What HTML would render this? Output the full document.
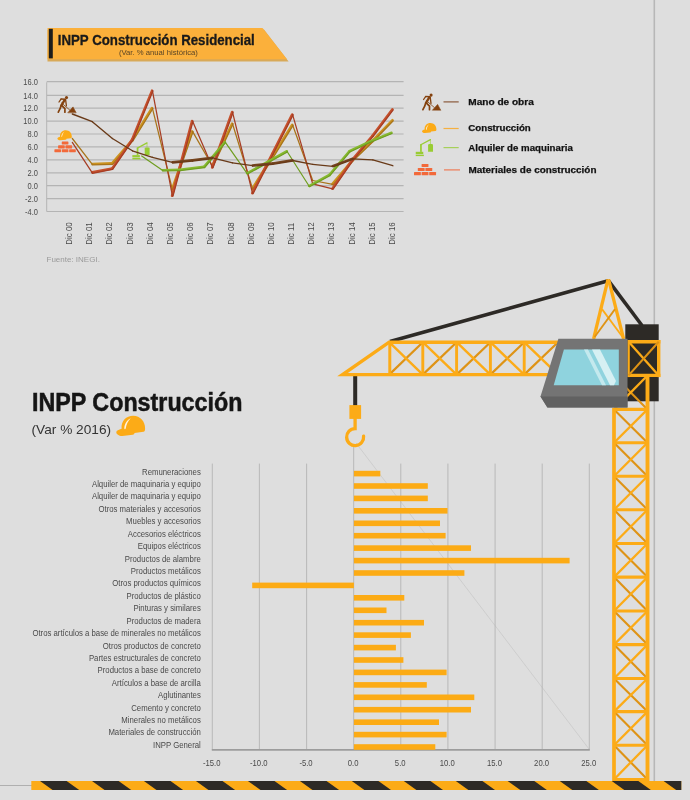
<!DOCTYPE html>
<html lang="es"><head><meta charset="utf-8"><title>INPP Construcción</title>
<style>html,body{margin:0;padding:0;background:#dedede;}body{width:690px;height:800px;overflow:hidden;}svg{display:block;}text{font-family:"Liberation Sans",Arial,Helvetica,sans-serif;}</style></head><body>
<svg width="690" height="800" viewBox="0 0 690 800">
<rect width="690" height="800" fill="#dedede"/>
<rect x="653.5" y="0" width="1.6" height="781" fill="#b7b7b7"/>
<polygon points="47.5,30 264,29.4 288.6,61.6 47.5,61.6" fill="#d8a958"/>
<polygon points="47.5,28 262.5,28 287,59.3 47.5,59.3" fill="#fbb03b"/>
<rect x="48.8" y="28.8" width="4" height="29.6" fill="#1d1d1b"/>
<text x="57.8" y="44.8" font-size="13.8" font-weight="bold" fill="#1a1a1a" stroke="#1a1a1a" stroke-width="0.3" textLength="197" lengthAdjust="spacingAndGlyphs">INPP Construcción Residencial</text>
<text x="118.9" y="54.9" font-size="7.8" fill="#5a4526" textLength="79" lengthAdjust="spacingAndGlyphs">(Var. % anual histórica)</text>
<line x1="46.7" y1="81.7" x2="403.6" y2="81.7" stroke="#b4b4b4" stroke-width="1.2"/>
<text transform="translate(37.9,84.9) scale(0.83,1)" font-size="9" fill="#4a4a4a" text-anchor="end">16.0</text>
<line x1="46.7" y1="95.3" x2="403.6" y2="95.3" stroke="#b4b4b4" stroke-width="1.2"/>
<text transform="translate(37.9,98.5) scale(0.83,1)" font-size="9" fill="#4a4a4a" text-anchor="end">14.0</text>
<line x1="46.7" y1="108.2" x2="403.6" y2="108.2" stroke="#b4b4b4" stroke-width="1.2"/>
<text transform="translate(37.9,111.4) scale(0.83,1)" font-size="9" fill="#4a4a4a" text-anchor="end">12.0</text>
<line x1="46.7" y1="121.1" x2="403.6" y2="121.1" stroke="#b4b4b4" stroke-width="1.2"/>
<text transform="translate(37.9,124.3) scale(0.83,1)" font-size="9" fill="#4a4a4a" text-anchor="end">10.0</text>
<line x1="46.7" y1="134.0" x2="403.6" y2="134.0" stroke="#b4b4b4" stroke-width="1.2"/>
<text transform="translate(37.9,137.2) scale(0.83,1)" font-size="9" fill="#4a4a4a" text-anchor="end">8.0</text>
<line x1="46.7" y1="146.9" x2="403.6" y2="146.9" stroke="#b4b4b4" stroke-width="1.2"/>
<text transform="translate(37.9,150.1) scale(0.83,1)" font-size="9" fill="#4a4a4a" text-anchor="end">6.0</text>
<line x1="46.7" y1="159.9" x2="403.6" y2="159.9" stroke="#b4b4b4" stroke-width="1.2"/>
<text transform="translate(37.9,163.1) scale(0.83,1)" font-size="9" fill="#4a4a4a" text-anchor="end">4.0</text>
<line x1="46.7" y1="172.8" x2="403.6" y2="172.8" stroke="#b4b4b4" stroke-width="1.2"/>
<text transform="translate(37.9,176.0) scale(0.83,1)" font-size="9" fill="#4a4a4a" text-anchor="end">2.0</text>
<line x1="46.7" y1="185.7" x2="403.6" y2="185.7" stroke="#b4b4b4" stroke-width="1.2"/>
<text transform="translate(37.9,188.9) scale(0.83,1)" font-size="9" fill="#4a4a4a" text-anchor="end">0.0</text>
<line x1="46.7" y1="198.6" x2="403.6" y2="198.6" stroke="#b4b4b4" stroke-width="1.2"/>
<text transform="translate(37.9,201.8) scale(0.83,1)" font-size="9" fill="#4a4a4a" text-anchor="end">-2.0</text>
<line x1="46.7" y1="211.5" x2="403.6" y2="211.5" stroke="#b4b4b4" stroke-width="1.2"/>
<text transform="translate(37.9,214.7) scale(0.83,1)" font-size="9" fill="#4a4a4a" text-anchor="end">-4.0</text>
<line x1="46.7" y1="82.3" x2="46.7" y2="211.5" stroke="#b4b4b4" stroke-width="1"/>
<text transform="translate(72.1,244.8) rotate(-90) scale(0.886,1)" font-size="9" fill="#4a4a4a">Dic 00</text>
<text transform="translate(92.3,244.8) rotate(-90) scale(0.886,1)" font-size="9" fill="#4a4a4a">Dic 01</text>
<text transform="translate(112.4,244.8) rotate(-90) scale(0.886,1)" font-size="9" fill="#4a4a4a">Dic 02</text>
<text transform="translate(132.6,244.8) rotate(-90) scale(0.886,1)" font-size="9" fill="#4a4a4a">Dic 03</text>
<text transform="translate(152.8,244.8) rotate(-90) scale(0.886,1)" font-size="9" fill="#4a4a4a">Dic 04</text>
<text transform="translate(172.9,244.8) rotate(-90) scale(0.886,1)" font-size="9" fill="#4a4a4a">Dic 05</text>
<text transform="translate(193.1,244.8) rotate(-90) scale(0.886,1)" font-size="9" fill="#4a4a4a">Dic 06</text>
<text transform="translate(213.3,244.8) rotate(-90) scale(0.886,1)" font-size="9" fill="#4a4a4a">Dic 07</text>
<text transform="translate(233.5,244.8) rotate(-90) scale(0.886,1)" font-size="9" fill="#4a4a4a">Dic 08</text>
<text transform="translate(253.6,244.8) rotate(-90) scale(0.886,1)" font-size="9" fill="#4a4a4a">Dic 09</text>
<text transform="translate(273.8,244.8) rotate(-90) scale(0.886,1)" font-size="9" fill="#4a4a4a">Dic 10</text>
<text transform="translate(294.0,244.8) rotate(-90) scale(0.886,1)" font-size="9" fill="#4a4a4a">Dic 11</text>
<text transform="translate(314.1,244.8) rotate(-90) scale(0.886,1)" font-size="9" fill="#4a4a4a">Dic 12</text>
<text transform="translate(334.3,244.8) rotate(-90) scale(0.886,1)" font-size="9" fill="#4a4a4a">Dic 13</text>
<text transform="translate(354.5,244.8) rotate(-90) scale(0.886,1)" font-size="9" fill="#4a4a4a">Dic 14</text>
<text transform="translate(374.6,244.8) rotate(-90) scale(0.886,1)" font-size="9" fill="#4a4a4a">Dic 15</text>
<text transform="translate(394.8,244.8) rotate(-90) scale(0.886,1)" font-size="9" fill="#4a4a4a">Dic 16</text>
<text x="46.5" y="262.3" font-size="8" fill="#9a9a9a">Fuente: INEGI.</text>
<g transform="translate(57.7,96.0) scale(1.000)" fill="none" stroke="#84420f" stroke-linecap="round" stroke-linejoin="round">
<circle cx="8.8" cy="1.6" r="1.55" fill="#84420f" stroke="none"/>
<path d="M3.4,3.1 L7.5,3.3" stroke-width="1.5"/>
<path d="M3.3,3.1 L1.3,6.0" stroke-width="1.3"/>
<path d="M7.0,3.9 L3.7,9.3" stroke-width="2.3"/>
<path d="M7.9,3.6 L8.7,9.8" stroke-width="1.3"/>
<path d="M3.4,9.4 L2.4,12.7 L0.6,16.2" stroke-width="1.7"/>
<path d="M4.4,9.8 L7.2,12.7 L7.2,16.2" stroke-width="1.7"/>
<path d="M3.9,7.0 L12.0,14.0" stroke-width="0.8"/>
<path d="M10.3,16.5 L15.3,10.9 L18.3,16.5 Z" fill="#84420f" stroke="#84420f" stroke-width="0.6"/>
</g>
<g transform="translate(57.4,130.2) scale(1.000)">
<path d="M2.65,6.5 C2.3,2.6 5,0 8.45,0 C12,0 14.4,2.8 14.4,6.3 C14.4,7.4 14.2,7.8 13.6,7.95 L9.1,8.6 C9,9.2 8.8,9.4 8.2,9.5 L3,10.1 C1.5,10.2 0,9.2 0,8.2 C0,7.4 1.2,6.9 2.65,6.5 Z" fill="#fcab17"/>
<path d="M7.2,1.2 C5.2,2.2 4.0,4.2 4.0,6.4 C4.0,6.9 4.6,6.9 4.7,6.4 C5.0,4.4 5.8,2.6 7.2,1.2Z" fill="#fff3dc"/>
</g>
<g transform="translate(54.4,141.4) scale(0.970)" fill="#f2693a">
<rect x="7.60" y="0.00" width="6.85" height="3.15" rx="0.5"/>
<rect x="3.80" y="4.05" width="6.85" height="3.15" rx="0.5"/>
<rect x="11.40" y="4.05" width="6.85" height="3.15" rx="0.5"/>
<rect x="0.00" y="8.10" width="6.85" height="3.15" rx="0.5"/>
<rect x="7.60" y="8.10" width="6.85" height="3.15" rx="0.5"/>
<rect x="15.20" y="8.10" width="6.85" height="3.15" rx="0.5"/>
</g>
<g transform="translate(132.0,142.6) scale(1.000)">
<rect x="0.35" y="12.5" width="7.5" height="2.3" fill="#99cc33"/>
<rect x="0.35" y="15.4" width="8.1" height="1.4" fill="#99cc33"/>
<rect x="4.7" y="5.0" width="1.7" height="7.6" fill="#99cc33"/>
<path d="M5.4,5.5 L15,0.3" fill="none" stroke="#99cc33" stroke-width="1.2" stroke-linecap="round"/>
<path d="M15,0.3 L15,5" fill="none" stroke="#99cc33" stroke-width="0.6"/>
<path d="M12.7,12.5 L12.7,6 Q12.7,4.8 13.9,4.8 L16.4,4.8 Q17.6,4.8 17.6,6 L17.6,12.5 Z" fill="#99cc33"/>
</g>
<line x1="92.3" y1="163.9" x2="112.3" y2="163.3" stroke="#cb921f" stroke-width="2.4" stroke-linecap="round"/>
<line x1="112.0" y1="163.4" x2="132.0" y2="140.2" stroke="#cb921f" stroke-width="2.4" stroke-linecap="round"/>
<line x1="132.0" y1="140.2" x2="152.0" y2="107.9" stroke="#cb921f" stroke-width="2.4" stroke-linecap="round"/>
<line x1="172.0" y1="189.4" x2="192.1" y2="131.3" stroke="#cb921f" stroke-width="2.4" stroke-linecap="round"/>
<line x1="212.1" y1="166.1" x2="232.1" y2="123.5" stroke="#cb921f" stroke-width="2.4" stroke-linecap="round"/>
<line x1="252.2" y1="188.7" x2="272.2" y2="157.0" stroke="#cb921f" stroke-width="2.4" stroke-linecap="round"/>
<line x1="272.2" y1="157.0" x2="292.2" y2="124.7" stroke="#cb921f" stroke-width="2.4" stroke-linecap="round"/>
<line x1="332.3" y1="184.1" x2="352.4" y2="160.2" stroke="#cb921f" stroke-width="2.4" stroke-linecap="round"/>
<line x1="352.4" y1="160.2" x2="372.4" y2="140.8" stroke="#cb921f" stroke-width="2.4" stroke-linecap="round"/>
<line x1="372.4" y1="140.8" x2="392.5" y2="120.1" stroke="#cb921f" stroke-width="2.4" stroke-linecap="round"/>
<line x1="72.3" y1="138.5" x2="92.3" y2="164.4" stroke="#a8741a" stroke-width="1.25" stroke-linecap="round"/>
<line x1="92.3" y1="164.9" x2="112.4" y2="164.3" stroke="#a8741a" stroke-width="1.25" stroke-linecap="round"/>
<line x1="112.8" y1="164.1" x2="132.8" y2="140.8" stroke="#a8741a" stroke-width="1.25" stroke-linecap="round"/>
<line x1="132.9" y1="140.8" x2="152.9" y2="108.5" stroke="#a8741a" stroke-width="1.25" stroke-linecap="round"/>
<line x1="152.4" y1="108.2" x2="172.4" y2="189.6" stroke="#a8741a" stroke-width="1.25" stroke-linecap="round"/>
<line x1="173.0" y1="189.8" x2="193.0" y2="131.6" stroke="#a8741a" stroke-width="1.25" stroke-linecap="round"/>
<line x1="192.5" y1="131.4" x2="212.5" y2="166.3" stroke="#a8741a" stroke-width="1.25" stroke-linecap="round"/>
<line x1="213.0" y1="166.6" x2="233.0" y2="123.9" stroke="#a8741a" stroke-width="1.25" stroke-linecap="round"/>
<line x1="232.5" y1="123.7" x2="252.6" y2="188.9" stroke="#a8741a" stroke-width="1.25" stroke-linecap="round"/>
<line x1="253.0" y1="189.2" x2="273.1" y2="157.6" stroke="#a8741a" stroke-width="1.25" stroke-linecap="round"/>
<line x1="273.1" y1="157.6" x2="293.1" y2="125.3" stroke="#a8741a" stroke-width="1.25" stroke-linecap="round"/>
<line x1="292.6" y1="125.0" x2="312.7" y2="180.5" stroke="#a8741a" stroke-width="1.25" stroke-linecap="round"/>
<line x1="312.7" y1="180.5" x2="332.7" y2="184.4" stroke="#a8741a" stroke-width="1.25" stroke-linecap="round"/>
<line x1="333.1" y1="184.8" x2="353.1" y2="160.9" stroke="#a8741a" stroke-width="1.25" stroke-linecap="round"/>
<line x1="353.1" y1="160.9" x2="373.1" y2="141.5" stroke="#a8741a" stroke-width="1.25" stroke-linecap="round"/>
<line x1="373.1" y1="141.5" x2="393.2" y2="120.8" stroke="#a8741a" stroke-width="1.25" stroke-linecap="round"/>
<line x1="92.2" y1="172.3" x2="112.3" y2="168.5" stroke="#c5502c" stroke-width="2.4" stroke-linecap="round"/>
<line x1="112.0" y1="168.6" x2="132.0" y2="139.6" stroke="#c5502c" stroke-width="2.4" stroke-linecap="round"/>
<line x1="132.0" y1="139.7" x2="152.0" y2="90.6" stroke="#c5502c" stroke-width="2.4" stroke-linecap="round"/>
<line x1="172.0" y1="195.9" x2="192.0" y2="121.0" stroke="#c5502c" stroke-width="2.4" stroke-linecap="round"/>
<line x1="212.1" y1="167.5" x2="232.1" y2="111.9" stroke="#c5502c" stroke-width="2.4" stroke-linecap="round"/>
<line x1="252.2" y1="193.2" x2="272.2" y2="153.8" stroke="#c5502c" stroke-width="2.4" stroke-linecap="round"/>
<line x1="272.2" y1="153.8" x2="292.2" y2="114.4" stroke="#c5502c" stroke-width="2.4" stroke-linecap="round"/>
<line x1="332.3" y1="188.7" x2="352.3" y2="159.6" stroke="#c5502c" stroke-width="2.4" stroke-linecap="round"/>
<line x1="352.4" y1="159.6" x2="372.4" y2="135.7" stroke="#c5502c" stroke-width="2.4" stroke-linecap="round"/>
<line x1="372.4" y1="135.7" x2="392.4" y2="109.2" stroke="#c5502c" stroke-width="2.4" stroke-linecap="round"/>
<line x1="72.3" y1="142.4" x2="92.3" y2="172.8" stroke="#a63d24" stroke-width="1.25" stroke-linecap="round"/>
<line x1="92.4" y1="173.3" x2="112.5" y2="169.4" stroke="#a63d24" stroke-width="1.25" stroke-linecap="round"/>
<line x1="112.8" y1="169.2" x2="132.8" y2="140.1" stroke="#a63d24" stroke-width="1.25" stroke-linecap="round"/>
<line x1="132.9" y1="140.0" x2="152.9" y2="90.9" stroke="#a63d24" stroke-width="1.25" stroke-linecap="round"/>
<line x1="152.4" y1="90.7" x2="172.4" y2="196.0" stroke="#a63d24" stroke-width="1.25" stroke-linecap="round"/>
<line x1="173.0" y1="196.2" x2="193.0" y2="121.2" stroke="#a63d24" stroke-width="1.25" stroke-linecap="round"/>
<line x1="192.5" y1="121.1" x2="212.5" y2="167.6" stroke="#a63d24" stroke-width="1.25" stroke-linecap="round"/>
<line x1="213.0" y1="167.8" x2="233.1" y2="112.2" stroke="#a63d24" stroke-width="1.25" stroke-linecap="round"/>
<line x1="232.5" y1="112.1" x2="252.6" y2="193.5" stroke="#a63d24" stroke-width="1.25" stroke-linecap="round"/>
<line x1="253.1" y1="193.7" x2="273.1" y2="154.3" stroke="#a63d24" stroke-width="1.25" stroke-linecap="round"/>
<line x1="273.1" y1="154.3" x2="293.1" y2="114.9" stroke="#a63d24" stroke-width="1.25" stroke-linecap="round"/>
<line x1="292.6" y1="114.6" x2="312.7" y2="183.8" stroke="#a63d24" stroke-width="1.25" stroke-linecap="round"/>
<line x1="312.7" y1="183.8" x2="332.7" y2="188.9" stroke="#a63d24" stroke-width="1.25" stroke-linecap="round"/>
<line x1="333.1" y1="189.2" x2="353.2" y2="160.2" stroke="#a63d24" stroke-width="1.25" stroke-linecap="round"/>
<line x1="353.1" y1="160.2" x2="373.2" y2="136.3" stroke="#a63d24" stroke-width="1.25" stroke-linecap="round"/>
<line x1="373.2" y1="136.3" x2="393.2" y2="109.8" stroke="#a63d24" stroke-width="1.25" stroke-linecap="round"/>
<line x1="162.8" y1="170.1" x2="180.0" y2="169.7" stroke="#86b92f" stroke-width="2.3" stroke-linecap="round"/>
<line x1="179.9" y1="169.7" x2="204.2" y2="166.7" stroke="#86b92f" stroke-width="2.3" stroke-linecap="round"/>
<line x1="204.0" y1="166.8" x2="224.9" y2="141.9" stroke="#86b92f" stroke-width="2.3" stroke-linecap="round"/>
<line x1="247.0" y1="173.2" x2="286.9" y2="151.1" stroke="#86b92f" stroke-width="2.3" stroke-linecap="round"/>
<line x1="309.0" y1="185.9" x2="329.3" y2="174.8" stroke="#86b92f" stroke-width="2.3" stroke-linecap="round"/>
<line x1="329.2" y1="174.9" x2="349.3" y2="151.2" stroke="#86b92f" stroke-width="2.3" stroke-linecap="round"/>
<line x1="349.4" y1="151.1" x2="369.1" y2="141.8" stroke="#86b92f" stroke-width="2.3" stroke-linecap="round"/>
<line x1="369.1" y1="141.8" x2="391.6" y2="132.6" stroke="#86b92f" stroke-width="2.3" stroke-linecap="round"/>
<line x1="141.7" y1="156.0" x2="162.8" y2="170.5" stroke="#6f9d20" stroke-width="1.2" stroke-linecap="round"/>
<line x1="162.8" y1="171.0" x2="180.0" y2="170.6" stroke="#6f9d20" stroke-width="1.2" stroke-linecap="round"/>
<line x1="180.1" y1="170.6" x2="204.4" y2="167.6" stroke="#6f9d20" stroke-width="1.2" stroke-linecap="round"/>
<line x1="204.7" y1="167.5" x2="225.6" y2="142.6" stroke="#6f9d20" stroke-width="1.2" stroke-linecap="round"/>
<line x1="225.2" y1="142.2" x2="247.2" y2="173.6" stroke="#6f9d20" stroke-width="1.2" stroke-linecap="round"/>
<line x1="247.5" y1="174.1" x2="287.4" y2="152.0" stroke="#6f9d20" stroke-width="1.2" stroke-linecap="round"/>
<line x1="287.1" y1="151.5" x2="309.2" y2="186.3" stroke="#6f9d20" stroke-width="1.2" stroke-linecap="round"/>
<line x1="309.5" y1="186.8" x2="329.8" y2="175.7" stroke="#6f9d20" stroke-width="1.2" stroke-linecap="round"/>
<line x1="329.9" y1="175.6" x2="350.0" y2="151.9" stroke="#6f9d20" stroke-width="1.2" stroke-linecap="round"/>
<line x1="349.8" y1="152.0" x2="369.5" y2="142.7" stroke="#6f9d20" stroke-width="1.2" stroke-linecap="round"/>
<line x1="369.5" y1="142.7" x2="392.0" y2="133.5" stroke="#6f9d20" stroke-width="1.2" stroke-linecap="round"/>
<line x1="172.4" y1="162.0" x2="192.4" y2="160.1" stroke="#74441f" stroke-width="2.1" stroke-linecap="round"/>
<line x1="192.4" y1="160.1" x2="212.5" y2="157.5" stroke="#74441f" stroke-width="2.1" stroke-linecap="round"/>
<line x1="252.5" y1="165.2" x2="272.6" y2="163.3" stroke="#74441f" stroke-width="2.1" stroke-linecap="round"/>
<line x1="272.5" y1="163.3" x2="292.6" y2="160.1" stroke="#74441f" stroke-width="2.1" stroke-linecap="round"/>
<line x1="332.5" y1="165.9" x2="352.6" y2="158.5" stroke="#74441f" stroke-width="2.1" stroke-linecap="round"/>
<line x1="72.3" y1="114.0" x2="92.3" y2="121.7" stroke="#693a18" stroke-width="1.35" stroke-linecap="round"/>
<line x1="92.3" y1="121.7" x2="112.4" y2="138.5" stroke="#693a18" stroke-width="1.35" stroke-linecap="round"/>
<line x1="112.4" y1="138.5" x2="132.4" y2="150.8" stroke="#693a18" stroke-width="1.35" stroke-linecap="round"/>
<line x1="132.4" y1="150.8" x2="152.4" y2="157.3" stroke="#693a18" stroke-width="1.35" stroke-linecap="round"/>
<line x1="152.4" y1="157.3" x2="172.4" y2="162.4" stroke="#693a18" stroke-width="1.35" stroke-linecap="round"/>
<line x1="172.5" y1="163.0" x2="192.5" y2="161.1" stroke="#693a18" stroke-width="1.35" stroke-linecap="round"/>
<line x1="192.6" y1="161.1" x2="212.6" y2="158.5" stroke="#693a18" stroke-width="1.35" stroke-linecap="round"/>
<line x1="212.5" y1="157.9" x2="232.5" y2="162.8" stroke="#693a18" stroke-width="1.35" stroke-linecap="round"/>
<line x1="232.5" y1="162.8" x2="252.6" y2="165.7" stroke="#693a18" stroke-width="1.35" stroke-linecap="round"/>
<line x1="252.6" y1="166.2" x2="272.7" y2="164.3" stroke="#693a18" stroke-width="1.35" stroke-linecap="round"/>
<line x1="272.7" y1="164.3" x2="292.7" y2="161.0" stroke="#693a18" stroke-width="1.35" stroke-linecap="round"/>
<line x1="292.6" y1="160.5" x2="312.7" y2="164.4" stroke="#693a18" stroke-width="1.35" stroke-linecap="round"/>
<line x1="312.7" y1="164.4" x2="332.7" y2="166.3" stroke="#693a18" stroke-width="1.35" stroke-linecap="round"/>
<line x1="332.9" y1="166.8" x2="352.9" y2="159.4" stroke="#693a18" stroke-width="1.35" stroke-linecap="round"/>
<line x1="352.7" y1="158.9" x2="372.8" y2="159.9" stroke="#693a18" stroke-width="1.35" stroke-linecap="round"/>
<line x1="372.8" y1="159.9" x2="392.8" y2="165.7" stroke="#693a18" stroke-width="1.35" stroke-linecap="round"/>
<g transform="translate(422.3,93.5) scale(1.000)" fill="none" stroke="#84420f" stroke-linecap="round" stroke-linejoin="round">
<circle cx="8.8" cy="1.6" r="1.55" fill="#84420f" stroke="none"/>
<path d="M3.4,3.1 L7.5,3.3" stroke-width="1.5"/>
<path d="M3.3,3.1 L1.3,6.0" stroke-width="1.3"/>
<path d="M7.0,3.9 L3.7,9.3" stroke-width="2.3"/>
<path d="M7.9,3.6 L8.7,9.8" stroke-width="1.3"/>
<path d="M3.4,9.4 L2.4,12.7 L0.6,16.2" stroke-width="1.7"/>
<path d="M4.4,9.8 L7.2,12.7 L7.2,16.2" stroke-width="1.7"/>
<path d="M3.9,7.0 L12.0,14.0" stroke-width="0.8"/>
<path d="M10.3,16.5 L15.3,10.9 L18.3,16.5 Z" fill="#84420f" stroke="#84420f" stroke-width="0.6"/>
</g>
<line x1="443.5" y1="101.9" x2="458.7" y2="101.9" stroke="#8b5a3c" stroke-width="1.2"/>
<text x="468.3" y="104.8" font-size="9.4" font-weight="bold" fill="#111" stroke="#111" stroke-width="0.25" textLength="65.5" lengthAdjust="spacingAndGlyphs">Mano de obra</text>
<g transform="translate(422.0,123.0) scale(1.000)">
<path d="M2.65,6.5 C2.3,2.6 5,0 8.45,0 C12,0 14.4,2.8 14.4,6.3 C14.4,7.4 14.2,7.8 13.6,7.95 L9.1,8.6 C9,9.2 8.8,9.4 8.2,9.5 L3,10.1 C1.5,10.2 0,9.2 0,8.2 C0,7.4 1.2,6.9 2.65,6.5 Z" fill="#fcab17"/>
<path d="M7.2,1.2 C5.2,2.2 4.0,4.2 4.0,6.4 C4.0,6.9 4.6,6.9 4.7,6.4 C5.0,4.4 5.8,2.6 7.2,1.2Z" fill="#fff3dc"/>
</g>
<line x1="443.5" y1="128.5" x2="458.7" y2="128.5" stroke="#f5b040" stroke-width="1.2"/>
<text x="468.3" y="131.1" font-size="9.4" font-weight="bold" fill="#111" stroke="#111" stroke-width="0.25" textLength="62.5" lengthAdjust="spacingAndGlyphs">Construcción</text>
<g transform="translate(415.4,139.3) scale(1.000)">
<rect x="0.35" y="12.5" width="7.5" height="2.3" fill="#99cc33"/>
<rect x="0.35" y="15.4" width="8.1" height="1.4" fill="#99cc33"/>
<rect x="4.7" y="5.0" width="1.7" height="7.6" fill="#99cc33"/>
<path d="M5.4,5.5 L15,0.3" fill="none" stroke="#99cc33" stroke-width="1.2" stroke-linecap="round"/>
<path d="M15,0.3 L15,5" fill="none" stroke="#99cc33" stroke-width="0.6"/>
<path d="M12.7,12.5 L12.7,6 Q12.7,4.8 13.9,4.8 L16.4,4.8 Q17.6,4.8 17.6,6 L17.6,12.5 Z" fill="#99cc33"/>
</g>
<line x1="443.5" y1="147.6" x2="458.7" y2="147.6" stroke="#a6d05a" stroke-width="1.2"/>
<text x="468.3" y="150.7" font-size="9.4" font-weight="bold" fill="#111" stroke="#111" stroke-width="0.25" textLength="104.5" lengthAdjust="spacingAndGlyphs">Alquiler de maquinaria</text>
<g transform="translate(414.0,163.9) scale(1.000)" fill="#f2693a">
<rect x="7.60" y="0.00" width="6.85" height="3.15" rx="0.5"/>
<rect x="3.80" y="4.05" width="6.85" height="3.15" rx="0.5"/>
<rect x="11.40" y="4.05" width="6.85" height="3.15" rx="0.5"/>
<rect x="0.00" y="8.10" width="6.85" height="3.15" rx="0.5"/>
<rect x="7.60" y="8.10" width="6.85" height="3.15" rx="0.5"/>
<rect x="15.20" y="8.10" width="6.85" height="3.15" rx="0.5"/>
</g>
<line x1="444" y1="169.9" x2="460" y2="169.9" stroke="#ee7b56" stroke-width="1.2"/>
<text x="468.5" y="172.5" font-size="9.4" font-weight="bold" fill="#111" stroke="#111" stroke-width="0.25" textLength="128" lengthAdjust="spacingAndGlyphs">Materiales de construcción</text>
<line x1="356" y1="443" x2="589" y2="749" stroke="#c9c9c9" stroke-width="0.8"/>
<line x1="212.3" y1="463.6" x2="212.3" y2="749.8" stroke="#b4b4b4" stroke-width="0.9"/>
<text transform="translate(211.7,765.8) scale(0.875,1)" font-size="8.8" fill="#4a4a4a" text-anchor="middle">-15.0</text>
<line x1="259.4" y1="463.6" x2="259.4" y2="749.8" stroke="#b4b4b4" stroke-width="0.9"/>
<text transform="translate(258.8,765.8) scale(0.875,1)" font-size="8.8" fill="#4a4a4a" text-anchor="middle">-10.0</text>
<line x1="306.6" y1="463.6" x2="306.6" y2="749.8" stroke="#b4b4b4" stroke-width="0.9"/>
<text transform="translate(306.0,765.8) scale(0.875,1)" font-size="8.8" fill="#4a4a4a" text-anchor="middle">-5.0</text>
<line x1="353.7" y1="446.0" x2="353.7" y2="749.8" stroke="#b4b4b4" stroke-width="0.9"/>
<text transform="translate(353.1,765.8) scale(0.875,1)" font-size="8.8" fill="#4a4a4a" text-anchor="middle">0.0</text>
<line x1="400.8" y1="463.6" x2="400.8" y2="749.8" stroke="#b4b4b4" stroke-width="0.9"/>
<text transform="translate(400.2,765.8) scale(0.875,1)" font-size="8.8" fill="#4a4a4a" text-anchor="middle">5.0</text>
<line x1="447.9" y1="463.6" x2="447.9" y2="749.8" stroke="#b4b4b4" stroke-width="0.9"/>
<text transform="translate(447.3,765.8) scale(0.875,1)" font-size="8.8" fill="#4a4a4a" text-anchor="middle">10.0</text>
<line x1="495.1" y1="463.6" x2="495.1" y2="749.8" stroke="#b4b4b4" stroke-width="0.9"/>
<text transform="translate(494.5,765.8) scale(0.875,1)" font-size="8.8" fill="#4a4a4a" text-anchor="middle">15.0</text>
<line x1="542.2" y1="463.6" x2="542.2" y2="749.8" stroke="#b4b4b4" stroke-width="0.9"/>
<text transform="translate(541.6,765.8) scale(0.875,1)" font-size="8.8" fill="#4a4a4a" text-anchor="middle">20.0</text>
<line x1="589.3" y1="463.6" x2="589.3" y2="749.8" stroke="#b4b4b4" stroke-width="0.9"/>
<text transform="translate(588.7,765.8) scale(0.875,1)" font-size="8.8" fill="#4a4a4a" text-anchor="middle">25.0</text>
<line x1="211.8" y1="749.8" x2="589.8" y2="749.8" stroke="#9c9c9c" stroke-width="1.7"/>
<rect x="353.9" y="470.8" width="26.4" height="5.6" fill="#fcab15"/>
<text transform="translate(200.8,474.6) scale(0.905,1)" font-size="8.6" fill="#4a4a4a" text-anchor="end">Remuneraciones</text>
<rect x="353.9" y="483.2" width="73.9" height="5.6" fill="#fcab15"/>
<text transform="translate(200.8,487.0) scale(0.905,1)" font-size="8.6" fill="#4a4a4a" text-anchor="end">Alquiler de maquinaria y equipo</text>
<rect x="353.9" y="495.6" width="73.9" height="5.6" fill="#fcab15"/>
<text transform="translate(200.8,499.4) scale(0.905,1)" font-size="8.6" fill="#4a4a4a" text-anchor="end">Alquiler de maquinaria y equipo</text>
<rect x="353.9" y="508.0" width="93.6" height="5.6" fill="#fcab15"/>
<text transform="translate(200.8,511.9) scale(0.905,1)" font-size="8.6" fill="#4a4a4a" text-anchor="end">Otros materiales y accesorios</text>
<rect x="353.9" y="520.5" width="86.1" height="5.6" fill="#fcab15"/>
<text transform="translate(200.8,524.3) scale(0.905,1)" font-size="8.6" fill="#4a4a4a" text-anchor="end">Muebles y accesorios</text>
<rect x="353.9" y="532.9" width="91.7" height="5.6" fill="#fcab15"/>
<text transform="translate(200.8,536.7) scale(0.905,1)" font-size="8.6" fill="#4a4a4a" text-anchor="end">Accesorios eléctricos</text>
<rect x="353.9" y="545.3" width="117.1" height="5.6" fill="#fcab15"/>
<text transform="translate(200.8,549.1) scale(0.905,1)" font-size="8.6" fill="#4a4a4a" text-anchor="end">Equipos eléctricos</text>
<rect x="353.9" y="557.8" width="215.7" height="5.6" fill="#fcab15"/>
<text transform="translate(200.8,561.5) scale(0.905,1)" font-size="8.6" fill="#4a4a4a" text-anchor="end">Productos de alambre</text>
<rect x="353.9" y="570.2" width="110.5" height="5.6" fill="#fcab15"/>
<text transform="translate(200.8,574.0) scale(0.905,1)" font-size="8.6" fill="#4a4a4a" text-anchor="end">Productos metálicos</text>
<rect x="252.2" y="582.6" width="101.7" height="5.6" fill="#fcab15"/>
<text transform="translate(200.8,586.4) scale(0.905,1)" font-size="8.6" fill="#4a4a4a" text-anchor="end">Otros productos químicos</text>
<rect x="353.9" y="595.0" width="50.4" height="5.6" fill="#fcab15"/>
<text transform="translate(200.8,598.8) scale(0.905,1)" font-size="8.6" fill="#4a4a4a" text-anchor="end">Productos de plástico</text>
<rect x="353.9" y="607.5" width="32.6" height="5.6" fill="#fcab15"/>
<text transform="translate(200.8,611.2) scale(0.905,1)" font-size="8.6" fill="#4a4a4a" text-anchor="end">Pinturas y similares</text>
<rect x="353.9" y="619.9" width="70.1" height="5.6" fill="#fcab15"/>
<text transform="translate(200.8,623.6) scale(0.905,1)" font-size="8.6" fill="#4a4a4a" text-anchor="end">Productos de madera</text>
<rect x="353.9" y="632.3" width="57.0" height="5.6" fill="#fcab15"/>
<text transform="translate(200.8,636.1) scale(0.905,1)" font-size="8.6" fill="#4a4a4a" text-anchor="end">Otros artículos a base de minerales no metálicos</text>
<rect x="353.9" y="644.8" width="42.0" height="5.6" fill="#fcab15"/>
<text transform="translate(200.8,648.5) scale(0.905,1)" font-size="8.6" fill="#4a4a4a" text-anchor="end">Otros productos de concreto</text>
<rect x="353.9" y="657.2" width="49.5" height="5.6" fill="#fcab15"/>
<text transform="translate(200.8,660.9) scale(0.905,1)" font-size="8.6" fill="#4a4a4a" text-anchor="end">Partes estructurales de concreto</text>
<rect x="353.9" y="669.6" width="92.7" height="5.6" fill="#fcab15"/>
<text transform="translate(200.8,673.3) scale(0.905,1)" font-size="8.6" fill="#4a4a4a" text-anchor="end">Productos a base de concreto</text>
<rect x="353.9" y="682.1" width="72.9" height="5.6" fill="#fcab15"/>
<text transform="translate(200.8,685.7) scale(0.905,1)" font-size="8.6" fill="#4a4a4a" text-anchor="end">Artículos a base de arcilla</text>
<rect x="353.9" y="694.5" width="120.4" height="5.6" fill="#fcab15"/>
<text transform="translate(200.8,698.2) scale(0.905,1)" font-size="8.6" fill="#4a4a4a" text-anchor="end">Aglutinantes</text>
<rect x="353.9" y="706.9" width="117.1" height="5.6" fill="#fcab15"/>
<text transform="translate(200.8,710.6) scale(0.905,1)" font-size="8.6" fill="#4a4a4a" text-anchor="end">Cemento y concreto</text>
<rect x="353.9" y="719.4" width="85.1" height="5.6" fill="#fcab15"/>
<text transform="translate(200.8,723.0) scale(0.905,1)" font-size="8.6" fill="#4a4a4a" text-anchor="end">Minerales no metálicos</text>
<rect x="353.9" y="731.8" width="92.7" height="5.6" fill="#fcab15"/>
<text transform="translate(200.8,735.4) scale(0.905,1)" font-size="8.6" fill="#4a4a4a" text-anchor="end">Materiales de construcción</text>
<rect x="353.9" y="744.2" width="81.4" height="5.6" fill="#fcab15"/>
<text transform="translate(200.8,747.8) scale(0.905,1)" font-size="8.6" fill="#4a4a4a" text-anchor="end">INPP General</text>
<text x="32.0" y="410.8" font-size="24.9" font-weight="bold" fill="#151515" stroke="#151515" stroke-width="0.5" textLength="210.4" lengthAdjust="spacingAndGlyphs">INPP Construcción</text>
<text x="31.5" y="434.2" font-size="13.2" fill="#333" textLength="79.6" lengthAdjust="spacingAndGlyphs">(Var % 2016)</text>
<g transform="translate(116.3,415.8) scale(2.000)">
<path d="M2.65,6.5 C2.3,2.6 5,0 8.45,0 C12,0 14.4,2.8 14.4,6.3 C14.4,7.4 14.2,7.8 13.6,7.95 L9.1,8.6 C9,9.2 8.8,9.4 8.2,9.5 L3,10.1 C1.5,10.2 0,9.2 0,8.2 C0,7.4 1.2,6.9 2.65,6.5 Z" fill="#fcab17"/>
<path d="M7.2,1.2 C5.2,2.2 4.0,4.2 4.0,6.4 C4.0,6.9 4.6,6.9 4.7,6.4 C5.0,4.4 5.8,2.6 7.2,1.2Z" fill="#fff3dc"/>
</g>
<rect x="625.3" y="324.3" width="33.4" height="77" fill="#2d2a26"/>
<line x1="390" y1="341.5" x2="608.2" y2="280.8" stroke="#2d2a26" stroke-width="3.6"/>
<line x1="608.2" y1="280.4" x2="642" y2="325.5" stroke="#2d2a26" stroke-width="3.6"/>
<rect x="353.2" y="376" width="4" height="30" fill="#2d2a26"/>
<g stroke="#de9315" stroke-width="2.1">
<line x1="614.0" y1="375.5" x2="647.5" y2="409.4"/>
<line x1="614.0" y1="409.4" x2="647.5" y2="442.8"/>
<line x1="614.0" y1="442.8" x2="647.5" y2="476.2"/>
<line x1="614.0" y1="476.2" x2="647.5" y2="509.7"/>
<line x1="614.0" y1="509.7" x2="647.5" y2="543.5"/>
<line x1="614.0" y1="543.5" x2="647.5" y2="577.1"/>
<line x1="614.0" y1="577.1" x2="647.5" y2="611.0"/>
<line x1="614.0" y1="611.0" x2="647.5" y2="644.6"/>
<line x1="614.0" y1="644.6" x2="647.5" y2="678.5"/>
<line x1="614.0" y1="678.5" x2="647.5" y2="711.6"/>
<line x1="614.0" y1="711.6" x2="647.5" y2="745.2"/>
<line x1="614.0" y1="745.2" x2="647.5" y2="779.5"/>
</g>
<g stroke="#fcab17" stroke-width="2.3">
<line x1="614.0" y1="409.4" x2="647.5" y2="375.5"/>
<line x1="614.0" y1="442.8" x2="647.5" y2="409.4"/>
<line x1="614.0" y1="476.2" x2="647.5" y2="442.8"/>
<line x1="614.0" y1="509.7" x2="647.5" y2="476.2"/>
<line x1="614.0" y1="543.5" x2="647.5" y2="509.7"/>
<line x1="614.0" y1="577.1" x2="647.5" y2="543.5"/>
<line x1="614.0" y1="611.0" x2="647.5" y2="577.1"/>
<line x1="614.0" y1="644.6" x2="647.5" y2="611.0"/>
<line x1="614.0" y1="678.5" x2="647.5" y2="644.6"/>
<line x1="614.0" y1="711.6" x2="647.5" y2="678.5"/>
<line x1="614.0" y1="745.2" x2="647.5" y2="711.6"/>
<line x1="614.0" y1="779.5" x2="647.5" y2="745.2"/>
</g>
<line x1="614.0" y1="409.4" x2="647.5" y2="409.4" stroke="#fcab17" stroke-width="3.1"/>
<line x1="614.0" y1="442.8" x2="647.5" y2="442.8" stroke="#fcab17" stroke-width="3.1"/>
<line x1="614.0" y1="476.2" x2="647.5" y2="476.2" stroke="#fcab17" stroke-width="3.1"/>
<line x1="614.0" y1="509.7" x2="647.5" y2="509.7" stroke="#fcab17" stroke-width="3.1"/>
<line x1="614.0" y1="543.5" x2="647.5" y2="543.5" stroke="#fcab17" stroke-width="3.1"/>
<line x1="614.0" y1="577.1" x2="647.5" y2="577.1" stroke="#fcab17" stroke-width="3.1"/>
<line x1="614.0" y1="611.0" x2="647.5" y2="611.0" stroke="#fcab17" stroke-width="3.1"/>
<line x1="614.0" y1="644.6" x2="647.5" y2="644.6" stroke="#fcab17" stroke-width="3.1"/>
<line x1="614.0" y1="678.5" x2="647.5" y2="678.5" stroke="#fcab17" stroke-width="3.1"/>
<line x1="614.0" y1="711.6" x2="647.5" y2="711.6" stroke="#fcab17" stroke-width="3.1"/>
<line x1="614.0" y1="745.2" x2="647.5" y2="745.2" stroke="#fcab17" stroke-width="3.1"/>
<line x1="614.0" y1="779.6" x2="647.5" y2="779.6" stroke="#fcab17" stroke-width="3.0"/>
<line x1="614.0" y1="407.9" x2="614.0" y2="781.0" stroke="#fcab17" stroke-width="3.7"/>
<line x1="647.5" y1="375.0" x2="647.5" y2="781.0" stroke="#fcab17" stroke-width="3.9"/>
<g stroke="#de9315" stroke-width="2.2">
<line x1="389.2" y1="374.6" x2="422.8" y2="342.2"/>
<line x1="422.8" y1="374.6" x2="456.6" y2="342.2"/>
<line x1="456.6" y1="374.6" x2="490.4" y2="342.2"/>
<line x1="490.4" y1="374.6" x2="524.2" y2="342.2"/>
<line x1="524.2" y1="374.6" x2="558.0" y2="342.2"/>
</g>
<g stroke="#fcab17" stroke-width="2.4">
<line x1="389.2" y1="342.2" x2="422.8" y2="374.6"/>
<line x1="422.8" y1="342.2" x2="456.6" y2="374.6"/>
<line x1="456.6" y1="342.2" x2="490.4" y2="374.6"/>
<line x1="490.4" y1="342.2" x2="524.2" y2="374.6"/>
<line x1="524.2" y1="342.2" x2="558.0" y2="374.6"/>
</g>
<line x1="422.8" y1="342.2" x2="422.8" y2="374.6" stroke="#fcab17" stroke-width="2.9"/>
<line x1="456.6" y1="342.2" x2="456.6" y2="374.6" stroke="#fcab17" stroke-width="2.9"/>
<line x1="490.4" y1="342.2" x2="490.4" y2="374.6" stroke="#fcab17" stroke-width="2.9"/>
<line x1="524.2" y1="342.2" x2="524.2" y2="374.6" stroke="#fcab17" stroke-width="2.9"/>
<line x1="389.8" y1="342.2" x2="389.8" y2="374.6" stroke="#fcab17" stroke-width="3.0"/>
<polyline points="566,374.6 342.6,374.6 389.2,342.2 566,342.2" fill="none" stroke="#fcab17" stroke-width="3.4" stroke-linejoin="miter" stroke-miterlimit="10"/>
<line x1="608.0" y1="279.4" x2="593.6" y2="339.0" stroke="#fcab17" stroke-width="3.3"/>
<line x1="608.6" y1="279.4" x2="623.6" y2="339.0" stroke="#fcab17" stroke-width="3.3"/>
<line x1="602.0" y1="309.1" x2="622.6" y2="337.0" stroke="#fcab17" stroke-width="1.8"/>
<line x1="615.0" y1="309.1" x2="594.6" y2="337.0" stroke="#de9315" stroke-width="1.8"/>
<line x1="628.6" y1="341.7" x2="660.4" y2="341.7" stroke="#fcab17" stroke-width="3.4"/>
<line x1="628.6" y1="375.4" x2="660.4" y2="375.4" stroke="#fcab17" stroke-width="3.4"/>
<line x1="658.7" y1="340.0" x2="658.7" y2="377.1" stroke="#fcab17" stroke-width="3.4"/>
<line x1="628.6" y1="340.0" x2="628.6" y2="377.1" stroke="#fcab17" stroke-width="2.4"/>
<line x1="628.6" y1="341.7" x2="658.7" y2="375.4" stroke="#fcab17" stroke-width="2.3"/>
<line x1="628.6" y1="375.4" x2="658.7" y2="341.7" stroke="#de9315" stroke-width="2.1"/>
<polygon points="558.4,338.7 627.5,338.7 627.5,407.4 547.4,407.4 540.5,396.4" fill="#747474"/>
<polygon points="540.5,396.4 627.5,396.4 627.5,407.4 547.4,407.4" fill="#616161"/>
<polygon points="563.9,349.6 618.8,349.6 618.8,385.3 553.7,385.3" fill="#8fd3de"/>
<polygon points="584,349.6 588,349.6 606,385.3 602,385.3" fill="#c4e9ee"/>
<polygon points="592,349.6 600,349.6 616,381 614,385.3 610,385.3" fill="#d6f0f3"/>
<rect x="349.4" y="405.1" width="11.7" height="13.8" fill="#fcab17"/>
<path d="M355.1,418 L355.1,428.6 A8.5,8.5 0 1 0 363.6,436.2" fill="none" stroke="#fcab17" stroke-width="3.3" stroke-linecap="round"/>
<line x1="0" y1="785.5" x2="32" y2="785.5" stroke="#a9a9a9" stroke-width="0.9"/>
<rect x="31.3" y="781" width="650" height="9" fill="#fcab17"/>
<g fill="#2d2a26">
<polygon points="40.0,781.0 66.6,781.0 79.2,790.0 52.6,790.0"/>
<polygon points="92.0,781.0 118.6,781.0 131.2,790.0 104.6,790.0"/>
<polygon points="143.9,781.0 170.5,781.0 183.1,790.0 156.5,790.0"/>
<polygon points="195.9,781.0 222.5,781.0 235.1,790.0 208.5,790.0"/>
<polygon points="247.9,781.0 274.5,781.0 287.1,790.0 260.5,790.0"/>
<polygon points="299.9,781.0 326.5,781.0 339.1,790.0 312.5,790.0"/>
<polygon points="351.8,781.0 378.4,781.0 391.0,790.0 364.4,790.0"/>
<polygon points="403.8,781.0 430.4,781.0 443.0,790.0 416.4,790.0"/>
<polygon points="455.8,781.0 482.4,781.0 495.0,790.0 468.4,790.0"/>
<polygon points="507.7,781.0 534.3,781.0 546.9,790.0 520.3,790.0"/>
<polygon points="559.7,781.0 586.3,781.0 598.9,790.0 572.3,790.0"/>
<polygon points="611.7,781.0 638.3,781.0 650.9,790.0 624.3,790.0"/>
<polygon points="663.6,781.0 681.3,781.0 681.3,790.0 676.2,790.0"/>
</g>
</svg></body></html>
